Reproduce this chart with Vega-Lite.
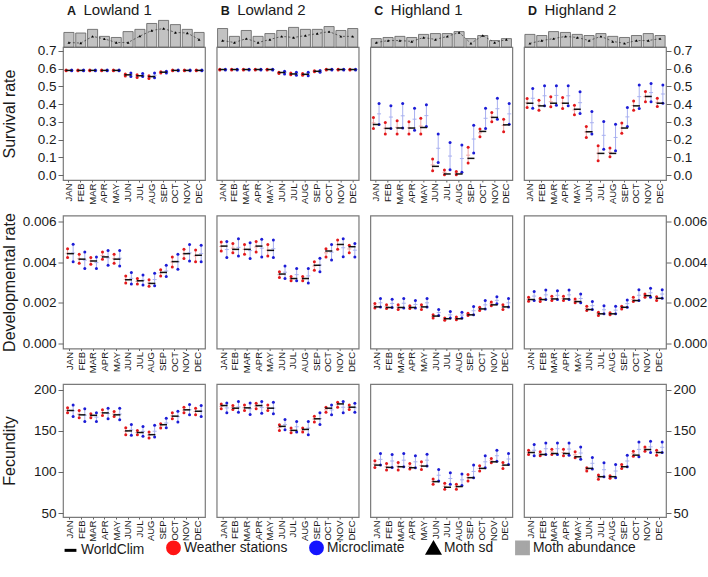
{
"$schema":"https://vega.github.io/schema/vega-lite/v6.json",
"background":"white",
"padding":{"left":0,"top":1,"right":0,"bottom":2},
"datasets":{
"ab":[
{"s":"A","mo":"JAN","ab":0.52,"sd":0.16},{"s":"A","mo":"FEB","ab":0.50,"sd":0.14},{"s":"A","mo":"MAR","ab":0.63,"sd":0.38},{"s":"A","mo":"APR","ab":0.38,"sd":0.29},{"s":"A","mo":"MAY","ab":0.34,"sd":0.16},{"s":"A","mo":"JUN","ab":0.55,"sd":0.16},{"s":"A","mo":"JUL","ab":0.63,"sd":0.39},{"s":"A","mo":"AUG","ab":0.84,"sd":0.59},{"s":"A","mo":"SEP","ab":0.95,"sd":0.66},{"s":"A","mo":"OCT","ab":0.80,"sd":0.52},{"s":"A","mo":"NOV","ab":0.63,"sd":0.50},{"s":"A","mo":"DEC","ab":0.52,"sd":0.27},
{"s":"B","mo":"JAN","ab":0.66,"sd":0.23},{"s":"B","mo":"FEB","ab":0.38,"sd":0.16},{"s":"B","mo":"MAR","ab":0.59,"sd":0.30},{"s":"B","mo":"APR","ab":0.38,"sd":0.16},{"s":"B","mo":"MAY","ab":0.48,"sd":0.27},{"s":"B","mo":"JUN","ab":0.59,"sd":0.38},{"s":"B","mo":"JUL","ab":0.70,"sd":0.34},{"s":"B","mo":"AUG","ab":0.63,"sd":0.41},{"s":"B","mo":"SEP","ab":0.63,"sd":0.48},{"s":"B","mo":"OCT","ab":0.73,"sd":0.55},{"s":"B","mo":"NOV","ab":0.59,"sd":0.38},{"s":"B","mo":"DEC","ab":0.66,"sd":0.38},
{"s":"C","mo":"JAN","ab":0.30,"sd":0.16},{"s":"C","mo":"FEB","ab":0.34,"sd":0.23},{"s":"C","mo":"MAR","ab":0.38,"sd":0.23},{"s":"C","mo":"APR","ab":0.34,"sd":0.20},{"s":"C","mo":"MAY","ab":0.45,"sd":0.34},{"s":"C","mo":"JUN","ab":0.48,"sd":0.27},{"s":"C","mo":"JUL","ab":0.48,"sd":0.38},{"s":"C","mo":"AUG","ab":0.55,"sd":0.52},{"s":"C","mo":"SEP","ab":0.30,"sd":0.13},{"s":"C","mo":"OCT","ab":0.41,"sd":0.41},{"s":"C","mo":"NOV","ab":0.23,"sd":0.16},{"s":"C","mo":"DEC","ab":0.30,"sd":0.27},
{"s":"D","mo":"JAN","ab":0.45,"sd":0.13},{"s":"D","mo":"FEB","ab":0.41,"sd":0.23},{"s":"D","mo":"MAR","ab":0.55,"sd":0.30},{"s":"D","mo":"APR","ab":0.52,"sd":0.38},{"s":"D","mo":"MAY","ab":0.45,"sd":0.34},{"s":"D","mo":"JUN","ab":0.41,"sd":0.23},{"s":"D","mo":"JUL","ab":0.48,"sd":0.38},{"s":"D","mo":"AUG","ab":0.38,"sd":0.20},{"s":"D","mo":"SEP","ab":0.34,"sd":0.13},{"s":"D","mo":"OCT","ab":0.41,"sd":0.23},{"s":"D","mo":"NOV","ab":0.48,"sd":0.23},{"s":"D","mo":"DEC","ab":0.41,"sd":0.30}
],
"d":[
{"s":"A","k":"S","mo":"JAN","wc":0.59,"wl":0.588,"wh":0.592,"wm":0.59,"ml":0.588,"mh":0.592,"mm":0.59},
{"s":"A","k":"S","mo":"FEB","wc":0.59,"wl":0.588,"wh":0.592,"wm":0.59,"ml":0.588,"mh":0.592,"mm":0.59},
{"s":"A","k":"S","mo":"MAR","wc":0.59,"wl":0.588,"wh":0.592,"wm":0.59,"ml":0.588,"mh":0.592,"mm":0.59},
{"s":"A","k":"S","mo":"APR","wc":0.59,"wl":0.588,"wh":0.592,"wm":0.59,"ml":0.588,"mh":0.592,"mm":0.59},
{"s":"A","k":"S","mo":"MAY","wc":0.59,"wl":0.588,"wh":0.592,"wm":0.59,"ml":0.588,"mh":0.592,"mm":0.59},
{"s":"A","k":"S","mo":"JUN","wc":0.565,"wl":0.558,"wh":0.570,"wm":0.564,"ml":0.555,"mh":0.575,"mm":0.565},
{"s":"A","k":"S","mo":"JUL","wc":0.560,"wl":0.550,"wh":0.565,"wm":0.558,"ml":0.555,"mh":0.572,"mm":0.563},
{"s":"A","k":"S","mo":"AUG","wc":0.555,"wl":0.545,"wh":0.560,"wm":0.553,"ml":0.548,"mh":0.575,"mm":0.562},
{"s":"A","k":"S","mo":"SEP","wc":0.580,"wl":0.575,"wh":0.582,"wm":0.579,"ml":0.575,"mh":0.585,"mm":0.580},
{"s":"A","k":"S","mo":"OCT","wc":0.59,"wl":0.588,"wh":0.592,"wm":0.59,"ml":0.588,"mh":0.592,"mm":0.59},
{"s":"A","k":"S","mo":"NOV","wc":0.59,"wl":0.588,"wh":0.592,"wm":0.59,"ml":0.588,"mh":0.592,"mm":0.59},
{"s":"A","k":"S","mo":"DEC","wc":0.59,"wl":0.588,"wh":0.592,"wm":0.59,"ml":0.588,"mh":0.592,"mm":0.59},
{"s":"B","k":"S","mo":"JAN","wc":0.595,"wl":0.593,"wh":0.597,"wm":0.595,"ml":0.593,"mh":0.597,"mm":0.595},
{"s":"B","k":"S","mo":"FEB","wc":0.595,"wl":0.593,"wh":0.597,"wm":0.595,"ml":0.593,"mh":0.597,"mm":0.595},
{"s":"B","k":"S","mo":"MAR","wc":0.595,"wl":0.593,"wh":0.597,"wm":0.595,"ml":0.593,"mh":0.597,"mm":0.595},
{"s":"B","k":"S","mo":"APR","wc":0.595,"wl":0.593,"wh":0.597,"wm":0.595,"ml":0.593,"mh":0.597,"mm":0.595},
{"s":"B","k":"S","mo":"MAY","wc":0.595,"wl":0.593,"wh":0.597,"wm":0.595,"ml":0.593,"mh":0.597,"mm":0.595},
{"s":"B","k":"S","mo":"JUN","wc":0.578,"wl":0.572,"wh":0.580,"wm":0.576,"ml":0.570,"mh":0.585,"mm":0.578},
{"s":"B","k":"S","mo":"JUL","wc":0.570,"wl":0.565,"wh":0.575,"wm":0.570,"ml":0.562,"mh":0.580,"mm":0.571},
{"s":"B","k":"S","mo":"AUG","wc":0.568,"wl":0.562,"wh":0.572,"wm":0.567,"ml":0.560,"mh":0.580,"mm":0.570},
{"s":"B","k":"S","mo":"SEP","wc":0.585,"wl":0.582,"wh":0.588,"wm":0.585,"ml":0.580,"mh":0.590,"mm":0.585},
{"s":"B","k":"S","mo":"OCT","wc":0.595,"wl":0.593,"wh":0.597,"wm":0.595,"ml":0.593,"mh":0.597,"mm":0.595},
{"s":"B","k":"S","mo":"NOV","wc":0.595,"wl":0.593,"wh":0.597,"wm":0.595,"ml":0.593,"mh":0.597,"mm":0.595},
{"s":"B","k":"S","mo":"DEC","wc":0.595,"wl":0.593,"wh":0.597,"wm":0.595,"ml":0.593,"mh":0.597,"mm":0.595},
{"s":"C","k":"S","mo":"JAN","wc":0.285,"wl":0.262,"wh":0.325,"wm":0.294,"ml":0.285,"mh":0.404,"mm":0.345},
{"s":"C","k":"S","mo":"FEB","wc":0.263,"wl":0.231,"wh":0.296,"wm":0.264,"ml":0.263,"mh":0.390,"mm":0.327},
{"s":"C","k":"S","mo":"MAR","wc":0.265,"wl":0.231,"wh":0.306,"wm":0.269,"ml":0.265,"mh":0.403,"mm":0.334},
{"s":"C","k":"S","mo":"APR","wc":0.265,"wl":0.231,"wh":0.300,"wm":0.266,"ml":0.253,"mh":0.377,"mm":0.315},
{"s":"C","k":"S","mo":"MAY","wc":0.268,"wl":0.231,"wh":0.320,"wm":0.276,"ml":0.274,"mh":0.396,"mm":0.335},
{"s":"C","k":"S","mo":"JUN","wc":0.049,"wl":0.024,"wh":0.090,"wm":0.057,"ml":0.071,"mh":0.231,"mm":0.151},
{"s":"C","k":"S","mo":"JUL","wc":0.006,"wl":0.002,"wh":0.028,"wm":0.015,"ml":0.030,"mh":0.184,"mm":0.107},
{"s":"C","k":"S","mo":"AUG","wc":0.006,"wl":0.002,"wh":0.020,"wm":0.011,"ml":0.015,"mh":0.170,"mm":0.093},
{"s":"C","k":"S","mo":"SEP","wc":0.094,"wl":0.068,"wh":0.156,"wm":0.112,"ml":0.124,"mh":0.281,"mm":0.203},
{"s":"C","k":"S","mo":"OCT","wc":0.246,"wl":0.216,"wh":0.259,"wm":0.238,"ml":0.263,"mh":0.377,"mm":0.320},
{"s":"C","k":"S","mo":"NOV","wc":0.325,"wl":0.300,"wh":0.353,"wm":0.327,"ml":0.315,"mh":0.433,"mm":0.374},
{"s":"C","k":"S","mo":"DEC","wc":0.283,"wl":0.244,"wh":0.315,"wm":0.280,"ml":0.287,"mh":0.403,"mm":0.345},
{"s":"D","k":"S","mo":"JAN","wc":0.405,"wl":0.381,"wh":0.432,"wm":0.407,"ml":0.377,"mh":0.488,"mm":0.433},
{"s":"D","k":"S","mo":"FEB","wc":0.390,"wl":0.366,"wh":0.422,"wm":0.394,"ml":0.390,"mh":0.503,"mm":0.447},
{"s":"D","k":"S","mo":"MAR","wc":0.405,"wl":0.385,"wh":0.441,"wm":0.413,"ml":0.394,"mh":0.503,"mm":0.449},
{"s":"D","k":"S","mo":"APR","wc":0.405,"wl":0.375,"wh":0.437,"wm":0.406,"ml":0.390,"mh":0.503,"mm":0.447},
{"s":"D","k":"S","mo":"MAY","wc":0.371,"wl":0.340,"wh":0.394,"wm":0.367,"ml":0.347,"mh":0.469,"mm":0.408},
{"s":"D","k":"S","mo":"JUN","wc":0.244,"wl":0.212,"wh":0.274,"wm":0.243,"ml":0.231,"mh":0.358,"mm":0.295},
{"s":"D","k":"S","mo":"JUL","wc":0.122,"wl":0.081,"wh":0.165,"wm":0.123,"ml":0.146,"mh":0.302,"mm":0.224},
{"s":"D","k":"S","mo":"AUG","wc":0.122,"wl":0.103,"wh":0.152,"wm":0.128,"ml":0.137,"mh":0.287,"mm":0.212},
{"s":"D","k":"S","mo":"SEP","wc":0.265,"wl":0.236,"wh":0.293,"wm":0.265,"ml":0.274,"mh":0.381,"mm":0.328},
{"s":"D","k":"S","mo":"OCT","wc":0.390,"wl":0.366,"wh":0.418,"wm":0.392,"ml":0.375,"mh":0.508,"mm":0.442},
{"s":"D","k":"S","mo":"NOV","wc":0.443,"wl":0.413,"wh":0.471,"wm":0.442,"ml":0.413,"mh":0.516,"mm":0.465},
{"s":"D","k":"S","mo":"DEC","wc":0.405,"wl":0.386,"wh":0.433,"wm":0.410,"ml":0.405,"mh":0.508,"mm":0.457},
{"s":"A","k":"D","mo":"JAN","wc":0.00441,"wl":0.00422,"wh":0.00465,"wm":0.00443,"ml":0.00401,"mh":0.00487,"mm":0.00444},
{"s":"A","k":"D","mo":"FEB","wc":0.00414,"wl":0.00394,"wh":0.00438,"wm":0.00416,"ml":0.00368,"mh":0.00449,"mm":0.00409},
{"s":"A","k":"D","mo":"MAR","wc":0.00405,"wl":0.00389,"wh":0.00422,"wm":0.00405,"ml":0.00368,"mh":0.00425,"mm":0.00397},
{"s":"A","k":"D","mo":"APR","wc":0.00425,"wl":0.00414,"wh":0.00449,"wm":0.00432,"ml":0.00384,"mh":0.00457,"mm":0.00420},
{"s":"A","k":"D","mo":"MAY","wc":0.00414,"wl":0.00394,"wh":0.00438,"wm":0.00416,"ml":0.00381,"mh":0.00457,"mm":0.00419},
{"s":"A","k":"D","mo":"JUN","wc":0.00313,"wl":0.00297,"wh":0.00332,"wm":0.00315,"ml":0.00292,"mh":0.00349,"mm":0.00320},
{"s":"A","k":"D","mo":"JUL","wc":0.00308,"wl":0.00292,"wh":0.00319,"wm":0.00305,"ml":0.00287,"mh":0.00336,"mm":0.00311},
{"s":"A","k":"D","mo":"AUG","wc":0.00295,"wl":0.00281,"wh":0.00313,"wm":0.00297,"ml":0.00284,"mh":0.00345,"mm":0.00314},
{"s":"A","k":"D","mo":"SEP","wc":0.00349,"wl":0.00332,"wh":0.00362,"wm":0.00347,"ml":0.00329,"mh":0.00384,"mm":0.00356},
{"s":"A","k":"D","mo":"OCT","wc":0.00402,"wl":0.00376,"wh":0.00425,"wm":0.00400,"ml":0.00365,"mh":0.00438,"mm":0.00401},
{"s":"A","k":"D","mo":"NOV","wc":0.00441,"wl":0.00417,"wh":0.00462,"wm":0.00440,"ml":0.00405,"mh":0.00486,"mm":0.00445},
{"s":"A","k":"D","mo":"DEC","wc":0.00433,"wl":0.00401,"wh":0.00459,"wm":0.00430,"ml":0.00401,"mh":0.00482,"mm":0.00441},
{"s":"B","k":"D","mo":"JAN","wc":0.00478,"wl":0.00454,"wh":0.00498,"wm":0.00476,"ml":0.00422,"mh":0.00500,"mm":0.00461},
{"s":"B","k":"D","mo":"FEB","wc":0.00462,"wl":0.00446,"wh":0.00491,"wm":0.00468,"ml":0.00430,"mh":0.00514,"mm":0.00472},
{"s":"B","k":"D","mo":"MAR","wc":0.00462,"wl":0.00438,"wh":0.00486,"wm":0.00462,"ml":0.00417,"mh":0.00495,"mm":0.00456},
{"s":"B","k":"D","mo":"APR","wc":0.00478,"wl":0.00449,"wh":0.00500,"wm":0.00474,"ml":0.00425,"mh":0.00511,"mm":0.00468},
{"s":"B","k":"D","mo":"MAY","wc":0.00457,"wl":0.00430,"wh":0.00486,"wm":0.00458,"ml":0.00422,"mh":0.00508,"mm":0.00465},
{"s":"B","k":"D","mo":"JUN","wc":0.00341,"wl":0.00324,"wh":0.00352,"wm":0.00338,"ml":0.00319,"mh":0.00381,"mm":0.00350},
{"s":"B","k":"D","mo":"JUL","wc":0.00319,"wl":0.00308,"wh":0.00329,"wm":0.00318,"ml":0.00308,"mh":0.00368,"mm":0.00338},
{"s":"B","k":"D","mo":"AUG","wc":0.00319,"wl":0.00308,"wh":0.00329,"wm":0.00318,"ml":0.00297,"mh":0.00368,"mm":0.00332},
{"s":"B","k":"D","mo":"SEP","wc":0.00384,"wl":0.00360,"wh":0.00401,"wm":0.00380,"ml":0.00352,"mh":0.00418,"mm":0.00385},
{"s":"B","k":"D","mo":"OCT","wc":0.00454,"wl":0.00425,"wh":0.00465,"wm":0.00445,"ml":0.00410,"mh":0.00486,"mm":0.00448},
{"s":"B","k":"D","mo":"NOV","wc":0.00486,"wl":0.00462,"wh":0.00508,"wm":0.00485,"ml":0.00426,"mh":0.00514,"mm":0.00470},
{"s":"B","k":"D","mo":"DEC","wc":0.00475,"wl":0.00446,"wh":0.00482,"wm":0.00464,"ml":0.00425,"mh":0.00491,"mm":0.00458},
{"s":"C","k":"D","mo":"JAN","wc":0.00180,"wl":0.00175,"wh":0.00196,"wm":0.00185,"ml":0.00180,"mh":0.00221,"mm":0.00200},
{"s":"C","k":"D","mo":"FEB","wc":0.00177,"wl":0.00172,"wh":0.00191,"wm":0.00181,"ml":0.00177,"mh":0.00217,"mm":0.00197},
{"s":"C","k":"D","mo":"MAR","wc":0.00177,"wl":0.00167,"wh":0.00191,"wm":0.00179,"ml":0.00174,"mh":0.00221,"mm":0.00198},
{"s":"C","k":"D","mo":"APR","wc":0.00177,"wl":0.00172,"wh":0.00186,"wm":0.00179,"ml":0.00174,"mh":0.00211,"mm":0.00192},
{"s":"C","k":"D","mo":"MAY","wc":0.00180,"wl":0.00167,"wh":0.00191,"wm":0.00179,"ml":0.00180,"mh":0.00221,"mm":0.00200},
{"s":"C","k":"D","mo":"JUN","wc":0.00135,"wl":0.00126,"wh":0.00141,"wm":0.00133,"ml":0.00138,"mh":0.00167,"mm":0.00152},
{"s":"C","k":"D","mo":"JUL","wc":0.00122,"wl":0.00114,"wh":0.00125,"wm":0.00120,"ml":0.00125,"mh":0.00157,"mm":0.00141},
{"s":"C","k":"D","mo":"AUG","wc":0.00122,"wl":0.00117,"wh":0.00130,"wm":0.00123,"ml":0.00125,"mh":0.00154,"mm":0.00140},
{"s":"C","k":"D","mo":"SEP","wc":0.00141,"wl":0.00138,"wh":0.00149,"wm":0.00143,"ml":0.00141,"mh":0.00182,"mm":0.00161},
{"s":"C","k":"D","mo":"OCT","wc":0.00170,"wl":0.00162,"wh":0.00178,"wm":0.00170,"ml":0.00170,"mh":0.00211,"mm":0.00190},
{"s":"C","k":"D","mo":"NOV","wc":0.00190,"wl":0.00186,"wh":0.00204,"wm":0.00195,"ml":0.00195,"mh":0.00230,"mm":0.00212},
{"s":"C","k":"D","mo":"DEC","wc":0.00180,"wl":0.00167,"wh":0.00191,"wm":0.00179,"ml":0.00180,"mh":0.00221,"mm":0.00200},
{"s":"D","k":"D","mo":"JAN","wc":0.00216,"wl":0.00208,"wh":0.00227,"wm":0.00217,"ml":0.00211,"mh":0.00255,"mm":0.00233},
{"s":"D","k":"D","mo":"FEB","wc":0.00216,"wl":0.00206,"wh":0.00222,"wm":0.00214,"ml":0.00216,"mh":0.00263,"mm":0.00239},
{"s":"D","k":"D","mo":"MAR","wc":0.00219,"wl":0.00211,"wh":0.00232,"wm":0.00221,"ml":0.00216,"mh":0.00259,"mm":0.00237},
{"s":"D","k":"D","mo":"APR","wc":0.00219,"wl":0.00211,"wh":0.00232,"wm":0.00221,"ml":0.00216,"mh":0.00263,"mm":0.00239},
{"s":"D","k":"D","mo":"MAY","wc":0.00206,"wl":0.00200,"wh":0.00219,"wm":0.00209,"ml":0.00200,"mh":0.00243,"mm":0.00221},
{"s":"D","k":"D","mo":"JUN","wc":0.00167,"wl":0.00162,"wh":0.00183,"wm":0.00172,"ml":0.00167,"mh":0.00206,"mm":0.00186},
{"s":"D","k":"D","mo":"JUL","wc":0.00146,"wl":0.00138,"wh":0.00154,"wm":0.00146,"ml":0.00146,"mh":0.00186,"mm":0.00166},
{"s":"D","k":"D","mo":"AUG","wc":0.00146,"wl":0.00141,"wh":0.00151,"wm":0.00146,"ml":0.00146,"mh":0.00183,"mm":0.00164},
{"s":"D","k":"D","mo":"SEP","wc":0.00178,"wl":0.00170,"wh":0.00183,"wm":0.00176,"ml":0.00178,"mh":0.00214,"mm":0.00196},
{"s":"D","k":"D","mo":"OCT","wc":0.00211,"wl":0.00206,"wh":0.00227,"wm":0.00216,"ml":0.00211,"mh":0.00264,"mm":0.00237},
{"s":"D","k":"D","mo":"NOV","wc":0.00235,"wl":0.00227,"wh":0.00243,"wm":0.00235,"ml":0.00227,"mh":0.00271,"mm":0.00249},
{"s":"D","k":"D","mo":"DEC","wc":0.00222,"wl":0.00211,"wh":0.00230,"wm":0.00220,"ml":0.00222,"mh":0.00264,"mm":0.00243},
{"s":"A","k":"F","mo":"JAN","wc":174.7,"wl":171.8,"wh":177.9,"wm":174.8,"ml":167.4,"mh":181.5,"mm":174.4},
{"s":"A","k":"F","mo":"FEB","wc":169.4,"wl":165.8,"wh":174.7,"wm":170.2,"ml":161.4,"mh":176.7,"mm":169.0},
{"s":"A","k":"F","mo":"MAR","wc":168.8,"wl":165.8,"wh":170.6,"wm":168.2,"ml":161.4,"mh":171.8,"mm":166.6},
{"s":"A","k":"F","mo":"APR","wc":171.8,"wl":168.6,"wh":175.5,"wm":172.0,"ml":164.6,"mh":177.5,"mm":171.0},
{"s":"A","k":"F","mo":"MAY","wc":169.4,"wl":167.4,"wh":173.5,"wm":170.4,"ml":163.4,"mh":177.5,"mm":170.4},
{"s":"A","k":"F","mo":"JUN","wc":149.9,"wl":145.3,"wh":153.7,"wm":149.5,"ml":144.5,"mh":157.8,"mm":151.1},
{"s":"A","k":"F","mo":"JUL","wc":147.9,"wl":145.3,"wh":150.5,"wm":147.9,"ml":143.3,"mh":155.3,"mm":149.3},
{"s":"A","k":"F","mo":"AUG","wc":145.3,"wl":141.3,"wh":148.5,"wm":144.9,"ml":142.5,"mh":156.6,"mm":149.5},
{"s":"A","k":"F","mo":"SEP","wc":157.4,"wl":153.3,"wh":158.6,"wm":156.0,"ml":153.7,"mh":165.4,"mm":159.5},
{"s":"A","k":"F","mo":"OCT","wc":167.8,"wl":164.6,"wh":171.8,"wm":168.2,"ml":160.6,"mh":173.8,"mm":167.2},
{"s":"A","k":"F","mo":"NOV","wc":175.5,"wl":171.8,"wh":178.7,"wm":175.2,"ml":169.4,"mh":181.9,"mm":175.6},
{"s":"A","k":"F","mo":"DEC","wc":173.8,"wl":169.4,"wh":177.5,"wm":173.5,"ml":167.4,"mh":180.7,"mm":174.0},
{"s":"B","k":"F","mo":"JAN","wc":180.7,"wl":176.7,"wh":182.7,"wm":179.7,"ml":171.8,"mh":183.9,"mm":177.8},
{"s":"B","k":"F","mo":"FEB","wc":177.5,"wl":175.9,"wh":180.7,"wm":178.3,"ml":172.6,"mh":185.5,"mm":179.0},
{"s":"B","k":"F","mo":"MAR","wc":177.9,"wl":174.7,"wh":181.5,"wm":178.1,"ml":169.8,"mh":183.9,"mm":176.8},
{"s":"B","k":"F","mo":"APR","wc":180.7,"wl":176.7,"wh":183.5,"wm":180.1,"ml":171.4,"mh":185.5,"mm":178.4},
{"s":"B","k":"F","mo":"MAY","wc":177.5,"wl":174.7,"wh":181.5,"wm":178.1,"ml":170.6,"mh":184.7,"mm":177.6},
{"s":"B","k":"F","mo":"JUN","wc":155.4,"wl":150.5,"wh":157.4,"wm":154.0,"ml":151.3,"mh":163.8,"mm":157.5},
{"s":"B","k":"F","mo":"JUL","wc":150.5,"wl":147.7,"wh":153.3,"wm":150.5,"ml":148.5,"mh":161.4,"mm":154.9},
{"s":"B","k":"F","mo":"AUG","wc":151.7,"wl":148.5,"wh":153.3,"wm":150.9,"ml":145.3,"mh":161.4,"mm":153.3},
{"s":"B","k":"F","mo":"SEP","wc":164.6,"wl":160.6,"wh":167.8,"wm":164.2,"ml":157.8,"mh":171.8,"mm":164.8},
{"s":"B","k":"F","mo":"OCT","wc":177.5,"wl":172.6,"wh":178.7,"wm":175.6,"ml":169.4,"mh":181.5,"mm":175.4},
{"s":"B","k":"F","mo":"NOV","wc":182.7,"wl":178.7,"wh":184.7,"wm":181.7,"ml":171.8,"mh":185.5,"mm":178.6},
{"s":"B","k":"F","mo":"DEC","wc":178.7,"wl":175.9,"wh":181.5,"wm":178.7,"ml":172.6,"mh":183.5,"mm":178.0},
{"s":"C","k":"F","mo":"JAN","wc":108.3,"wl":105.5,"wh":113.5,"wm":109.5,"ml":108.3,"mh":122.4,"mm":115.3},
{"s":"C","k":"F","mo":"FEB","wc":105.5,"wl":102.3,"wh":110.3,"wm":106.3,"ml":105.5,"mh":121.2,"mm":113.3},
{"s":"C","k":"F","mo":"MAR","wc":106.3,"wl":102.3,"wh":111.5,"wm":106.9,"ml":106.3,"mh":122.4,"mm":114.3},
{"s":"C","k":"F","mo":"APR","wc":105.1,"wl":103.5,"wh":110.3,"wm":106.9,"ml":105.1,"mh":119.6,"mm":112.3},
{"s":"C","k":"F","mo":"MAY","wc":107.1,"wl":103.1,"wh":112.3,"wm":107.7,"ml":107.1,"mh":121.6,"mm":114.3},
{"s":"C","k":"F","mo":"JUN","wc":88.2,"wl":85.0,"wh":91.4,"wm":88.2,"ml":89.0,"mh":103.1,"mm":96.0},
{"s":"C","k":"F","mo":"JUL","wc":81.4,"wl":79.0,"wh":86.2,"wm":82.6,"ml":85.0,"mh":99.1,"mm":92.0},
{"s":"C","k":"F","mo":"AUG","wc":82.2,"wl":79.0,"wh":85.0,"wm":82.0,"ml":83.4,"mh":97.4,"mm":90.4},
{"s":"C","k":"F","mo":"SEP","wc":93.0,"wl":89.0,"wh":97.0,"wm":93.0,"ml":93.0,"mh":108.3,"mm":100.6},
{"s":"C","k":"F","mo":"OCT","wc":104.3,"wl":101.1,"wh":107.5,"wm":104.3,"ml":105.1,"mh":119.6,"mm":112.3},
{"s":"C","k":"F","mo":"NOV","wc":112.3,"wl":111.1,"wh":116.3,"wm":113.7,"ml":113.1,"mh":126.4,"mm":119.7},
{"s":"C","k":"F","mo":"DEC","wc":108.3,"wl":104.3,"wh":111.5,"wm":107.9,"ml":109.1,"mh":122.4,"mm":115.7},
{"s":"D","k":"F","mo":"JAN","wc":123.6,"wl":121.2,"wh":126.4,"wm":123.8,"ml":119.6,"mh":133.2,"mm":126.4},
{"s":"D","k":"F","mo":"FEB","wc":121.2,"wl":119.6,"wh":124.4,"wm":122.0,"ml":121.2,"mh":135.2,"mm":128.2},
{"s":"D","k":"F","mo":"MAR","wc":122.4,"wl":121.2,"wh":127.6,"wm":124.4,"ml":121.2,"mh":135.2,"mm":128.2},
{"s":"D","k":"F","mo":"APR","wc":122.4,"wl":119.6,"wh":127.6,"wm":123.6,"ml":120.4,"mh":135.2,"mm":127.8},
{"s":"D","k":"F","mo":"MAY","wc":118.4,"wl":117.2,"wh":124.4,"wm":120.8,"ml":115.5,"mh":130.4,"mm":123.0},
{"s":"D","k":"F","mo":"JUN","wc":104.3,"wl":101.1,"wh":105.1,"wm":103.1,"ml":103.5,"mh":117.6,"mm":110.5},
{"s":"D","k":"F","mo":"JUL","wc":94.2,"wl":91.0,"wh":96.2,"wm":93.6,"ml":94.2,"mh":111.1,"mm":102.7},
{"s":"D","k":"F","mo":"AUG","wc":94.2,"wl":92.2,"wh":95.4,"wm":93.8,"ml":93.0,"mh":109.1,"mm":101.1},
{"s":"D","k":"F","mo":"SEP","wc":106.3,"wl":104.3,"wh":109.1,"wm":106.7,"ml":106.3,"mh":120.4,"mm":113.3},
{"s":"D","k":"F","mo":"OCT","wc":120.4,"wl":119.2,"wh":125.2,"wm":122.2,"ml":118.4,"mh":136.4,"mm":127.4},
{"s":"D","k":"F","mo":"NOV","wc":127.2,"wl":125.2,"wh":130.4,"wm":127.8,"ml":123.6,"mh":137.3,"mm":130.5},
{"s":"D","k":"F","mo":"DEC","wc":123.6,"wl":120.4,"wh":126.4,"wm":123.4,"ml":123.6,"mh":136.4,"mm":130.0}
]},
"columns":4,
"spacing":{"row":35.5,"column":11.67},
"bounds":"flush",
"concat":[
{"width":142,"height":133,"title":"A",
 "resolve":{"scale":{"y":"independent"},"axis":{"x":"independent"}},
 "layer":[
  {"data":{"name":"ab"},"transform":[{"filter":"datum.s=='A'"}],
   "encoding":{"x":{"field":"mo","type":"nominal","scale":{"domain":["JAN","FEB","MAR","APR","MAY","JUN","JUL","AUG","SEP","OCT","NOV","DEC"]},"axis":{"orient":"top","offset":29,"labels":false,"ticks":false,"domain":false,"title":"Lowland 1","titleFontSize":15,"titleAnchor":"start","titleAlign":"left","titleX":20,"titlePadding":1}}},
   "layer":[
    {"mark":{"type":"bar","fill":"#c2c2c2","stroke":"#5e5e5e","strokeWidth":0.8},"encoding":{"y":{"field":"ab","type":"quantitative","scale":{"domain":[0,1],"range":[0,-28],"nice":false},"axis":null}}},
    {"mark":{"type":"line","color":"#333333","strokeWidth":0.7,"strokeDash":[2,2]},"encoding":{"y":{"field":"sd","type":"quantitative","axis":null}}},
    {"mark":{"type":"point","shape":"triangle-up","filled":true,"color":"black","size":8},"encoding":{"y":{"field":"sd","type":"quantitative","axis":null}}}
   ]},
  {"data":{"name":"d"},"transform":[{"filter":"datum.s=='A'&&datum.k=='S'"}],
   "encoding":{"x":{"field":"mo","type":"nominal","scale":{"domain":["JAN","FEB","MAR","APR","MAY","JUN","JUL","AUG","SEP","OCT","NOV","DEC"]},"title":null}},
   "layer":[
    {"mark":{"type":"rule","color":"#f2a7a7","strokeWidth":1},"encoding":{"xOffset":{"datum":"WS","scale":{"domain":["WS","WC","MC"]}},"y":{"field":"wl","type":"quantitative","scale":{"domain":[-0.028,0.722],"nice":false,"zero":false},"axis":{"values":[0,0.1,0.2,0.3,0.4,0.5,0.6,0.7],"tickCount":8,"labelOverlap":false,"format":".1f","title":"Survival rate","titleX":-49,"titleBaseline":"alphabetic"}},"y2":{"field":"wh"}}},
    {"mark":{"type":"rule","color":"#a8b0f0","strokeWidth":1},"encoding":{"xOffset":{"datum":"MC"},"y":{"field":"ml","type":"quantitative","axis":{"values":[0,0.1,0.2,0.3,0.4,0.5,0.6,0.7],"tickCount":8,"labelOverlap":false,"format":".1f","title":"Survival rate","titleX":-49,"titleBaseline":"alphabetic"}},"y2":{"field":"mh"}}},
    {"mark":{"type":"tick","color":"#f2a7a7","size":4,"thickness":1},"encoding":{"xOffset":{"datum":"WS"},"y":{"field":"wm","type":"quantitative","axis":{"values":[0,0.1,0.2,0.3,0.4,0.5,0.6,0.7],"tickCount":8,"labelOverlap":false,"format":".1f","title":"Survival rate","titleX":-49,"titleBaseline":"alphabetic"}}}},
    {"mark":{"type":"tick","color":"#a8b0f0","size":4,"thickness":1},"encoding":{"xOffset":{"datum":"MC"},"y":{"field":"mm","type":"quantitative","axis":{"values":[0,0.1,0.2,0.3,0.4,0.5,0.6,0.7],"tickCount":8,"labelOverlap":false,"format":".1f","title":"Survival rate","titleX":-49,"titleBaseline":"alphabetic"}}}},
    {"mark":{"type":"point","filled":true,"color":"#e3191c","size":9},"encoding":{"xOffset":{"datum":"WS"},"y":{"field":"wl","type":"quantitative","axis":{"values":[0,0.1,0.2,0.3,0.4,0.5,0.6,0.7],"tickCount":8,"labelOverlap":false,"format":".1f","title":"Survival rate","titleX":-49,"titleBaseline":"alphabetic"}}}},
    {"mark":{"type":"point","filled":true,"color":"#e3191c","size":9},"encoding":{"xOffset":{"datum":"WS"},"y":{"field":"wh","type":"quantitative","axis":{"values":[0,0.1,0.2,0.3,0.4,0.5,0.6,0.7],"tickCount":8,"labelOverlap":false,"format":".1f","title":"Survival rate","titleX":-49,"titleBaseline":"alphabetic"}}}},
    {"mark":{"type":"point","filled":true,"color":"#1c1cd6","size":9},"encoding":{"xOffset":{"datum":"MC"},"y":{"field":"ml","type":"quantitative","axis":{"values":[0,0.1,0.2,0.3,0.4,0.5,0.6,0.7],"tickCount":8,"labelOverlap":false,"format":".1f","title":"Survival rate","titleX":-49,"titleBaseline":"alphabetic"}}}},
    {"mark":{"type":"point","filled":true,"color":"#1c1cd6","size":9},"encoding":{"xOffset":{"datum":"MC"},"y":{"field":"mh","type":"quantitative","axis":{"values":[0,0.1,0.2,0.3,0.4,0.5,0.6,0.7],"tickCount":8,"labelOverlap":false,"format":".1f","title":"Survival rate","titleX":-49,"titleBaseline":"alphabetic"}}}},
    {"mark":{"type":"tick","color":"#111111","size":7,"thickness":1.5},"encoding":{"xOffset":{"datum":"WC"},"y":{"field":"wc","type":"quantitative","axis":{"values":[0,0.1,0.2,0.3,0.4,0.5,0.6,0.7],"tickCount":8,"labelOverlap":false,"format":".1f","title":"Survival rate","titleX":-49,"titleBaseline":"alphabetic"}}}}
   ]}
 ]},
{"width":142,"height":133,"title":"B",
 "resolve":{"scale":{"y":"independent"},"axis":{"x":"independent"}},
 "layer":[
  {"data":{"name":"ab"},"transform":[{"filter":"datum.s=='B'"}],
   "encoding":{"x":{"field":"mo","type":"nominal","scale":{"domain":["JAN","FEB","MAR","APR","MAY","JUN","JUL","AUG","SEP","OCT","NOV","DEC"]},"axis":{"orient":"top","offset":29,"labels":false,"ticks":false,"domain":false,"title":"Lowland 2","titleFontSize":15,"titleAnchor":"start","titleAlign":"left","titleX":20,"titlePadding":1}}},
   "layer":[
    {"mark":{"type":"bar","fill":"#c2c2c2","stroke":"#5e5e5e","strokeWidth":0.8},"encoding":{"y":{"field":"ab","type":"quantitative","scale":{"domain":[0,1],"range":[0,-28],"nice":false},"axis":null}}},
    {"mark":{"type":"line","color":"#333333","strokeWidth":0.7,"strokeDash":[2,2]},"encoding":{"y":{"field":"sd","type":"quantitative","axis":null}}},
    {"mark":{"type":"point","shape":"triangle-up","filled":true,"color":"black","size":8},"encoding":{"y":{"field":"sd","type":"quantitative","axis":null}}}
   ]},
  {"data":{"name":"d"},"transform":[{"filter":"datum.s=='B'&&datum.k=='S'"}],
   "encoding":{"x":{"field":"mo","type":"nominal","scale":{"domain":["JAN","FEB","MAR","APR","MAY","JUN","JUL","AUG","SEP","OCT","NOV","DEC"]},"title":null}},
   "layer":[
    {"mark":{"type":"rule","color":"#f2a7a7","strokeWidth":1},"encoding":{"xOffset":{"datum":"WS","scale":{"domain":["WS","WC","MC"]}},"y":{"field":"wl","type":"quantitative","scale":{"domain":[-0.028,0.722],"nice":false,"zero":false},"axis":null},"y2":{"field":"wh"}}},
    {"mark":{"type":"rule","color":"#a8b0f0","strokeWidth":1},"encoding":{"xOffset":{"datum":"MC"},"y":{"field":"ml","type":"quantitative","axis":null},"y2":{"field":"mh"}}},
    {"mark":{"type":"tick","color":"#f2a7a7","size":4,"thickness":1},"encoding":{"xOffset":{"datum":"WS"},"y":{"field":"wm","type":"quantitative","axis":null}}},
    {"mark":{"type":"tick","color":"#a8b0f0","size":4,"thickness":1},"encoding":{"xOffset":{"datum":"MC"},"y":{"field":"mm","type":"quantitative","axis":null}}},
    {"mark":{"type":"point","filled":true,"color":"#e3191c","size":9},"encoding":{"xOffset":{"datum":"WS"},"y":{"field":"wl","type":"quantitative","axis":null}}},
    {"mark":{"type":"point","filled":true,"color":"#e3191c","size":9},"encoding":{"xOffset":{"datum":"WS"},"y":{"field":"wh","type":"quantitative","axis":null}}},
    {"mark":{"type":"point","filled":true,"color":"#1c1cd6","size":9},"encoding":{"xOffset":{"datum":"MC"},"y":{"field":"ml","type":"quantitative","axis":null}}},
    {"mark":{"type":"point","filled":true,"color":"#1c1cd6","size":9},"encoding":{"xOffset":{"datum":"MC"},"y":{"field":"mh","type":"quantitative","axis":null}}},
    {"mark":{"type":"tick","color":"#111111","size":7,"thickness":1.5},"encoding":{"xOffset":{"datum":"WC"},"y":{"field":"wc","type":"quantitative","axis":null}}}
   ]}
 ]},
{"width":142,"height":133,"title":"C",
 "resolve":{"scale":{"y":"independent"},"axis":{"x":"independent"}},
 "layer":[
  {"data":{"name":"ab"},"transform":[{"filter":"datum.s=='C'"}],
   "encoding":{"x":{"field":"mo","type":"nominal","scale":{"domain":["JAN","FEB","MAR","APR","MAY","JUN","JUL","AUG","SEP","OCT","NOV","DEC"]},"axis":{"orient":"top","offset":29,"labels":false,"ticks":false,"domain":false,"title":"Highland 1","titleFontSize":15,"titleAnchor":"start","titleAlign":"left","titleX":20,"titlePadding":1}}},
   "layer":[
    {"mark":{"type":"bar","fill":"#c2c2c2","stroke":"#5e5e5e","strokeWidth":0.8},"encoding":{"y":{"field":"ab","type":"quantitative","scale":{"domain":[0,1],"range":[0,-28],"nice":false},"axis":null}}},
    {"mark":{"type":"line","color":"#333333","strokeWidth":0.7,"strokeDash":[2,2]},"encoding":{"y":{"field":"sd","type":"quantitative","axis":null}}},
    {"mark":{"type":"point","shape":"triangle-up","filled":true,"color":"black","size":8},"encoding":{"y":{"field":"sd","type":"quantitative","axis":null}}}
   ]},
  {"data":{"name":"d"},"transform":[{"filter":"datum.s=='C'&&datum.k=='S'"}],
   "encoding":{"x":{"field":"mo","type":"nominal","scale":{"domain":["JAN","FEB","MAR","APR","MAY","JUN","JUL","AUG","SEP","OCT","NOV","DEC"]},"title":null}},
   "layer":[
    {"mark":{"type":"rule","color":"#f2a7a7","strokeWidth":1},"encoding":{"xOffset":{"datum":"WS","scale":{"domain":["WS","WC","MC"]}},"y":{"field":"wl","type":"quantitative","scale":{"domain":[-0.028,0.722],"nice":false,"zero":false},"axis":null},"y2":{"field":"wh"}}},
    {"mark":{"type":"rule","color":"#a8b0f0","strokeWidth":1},"encoding":{"xOffset":{"datum":"MC"},"y":{"field":"ml","type":"quantitative","axis":null},"y2":{"field":"mh"}}},
    {"mark":{"type":"tick","color":"#f2a7a7","size":4,"thickness":1},"encoding":{"xOffset":{"datum":"WS"},"y":{"field":"wm","type":"quantitative","axis":null}}},
    {"mark":{"type":"tick","color":"#a8b0f0","size":4,"thickness":1},"encoding":{"xOffset":{"datum":"MC"},"y":{"field":"mm","type":"quantitative","axis":null}}},
    {"mark":{"type":"point","filled":true,"color":"#e3191c","size":9},"encoding":{"xOffset":{"datum":"WS"},"y":{"field":"wl","type":"quantitative","axis":null}}},
    {"mark":{"type":"point","filled":true,"color":"#e3191c","size":9},"encoding":{"xOffset":{"datum":"WS"},"y":{"field":"wh","type":"quantitative","axis":null}}},
    {"mark":{"type":"point","filled":true,"color":"#1c1cd6","size":9},"encoding":{"xOffset":{"datum":"MC"},"y":{"field":"ml","type":"quantitative","axis":null}}},
    {"mark":{"type":"point","filled":true,"color":"#1c1cd6","size":9},"encoding":{"xOffset":{"datum":"MC"},"y":{"field":"mh","type":"quantitative","axis":null}}},
    {"mark":{"type":"tick","color":"#111111","size":7,"thickness":1.5},"encoding":{"xOffset":{"datum":"WC"},"y":{"field":"wc","type":"quantitative","axis":null}}}
   ]}
 ]},
{"width":142,"height":133,"title":"D",
 "resolve":{"scale":{"y":"independent"},"axis":{"x":"independent"}},
 "layer":[
  {"data":{"name":"ab"},"transform":[{"filter":"datum.s=='D'"}],
   "encoding":{"x":{"field":"mo","type":"nominal","scale":{"domain":["JAN","FEB","MAR","APR","MAY","JUN","JUL","AUG","SEP","OCT","NOV","DEC"]},"axis":{"orient":"top","offset":29,"labels":false,"ticks":false,"domain":false,"title":"Highland 2","titleFontSize":15,"titleAnchor":"start","titleAlign":"left","titleX":20,"titlePadding":1}}},
   "layer":[
    {"mark":{"type":"bar","fill":"#c2c2c2","stroke":"#5e5e5e","strokeWidth":0.8},"encoding":{"y":{"field":"ab","type":"quantitative","scale":{"domain":[0,1],"range":[0,-28],"nice":false},"axis":null}}},
    {"mark":{"type":"line","color":"#333333","strokeWidth":0.7,"strokeDash":[2,2]},"encoding":{"y":{"field":"sd","type":"quantitative","axis":null}}},
    {"mark":{"type":"point","shape":"triangle-up","filled":true,"color":"black","size":8},"encoding":{"y":{"field":"sd","type":"quantitative","axis":null}}}
   ]},
  {"data":{"name":"d"},"transform":[{"filter":"datum.s=='D'&&datum.k=='S'"}],
   "encoding":{"x":{"field":"mo","type":"nominal","scale":{"domain":["JAN","FEB","MAR","APR","MAY","JUN","JUL","AUG","SEP","OCT","NOV","DEC"]},"title":null}},
   "layer":[
    {"mark":{"type":"rule","color":"#f2a7a7","strokeWidth":1},"encoding":{"xOffset":{"datum":"WS","scale":{"domain":["WS","WC","MC"]}},"y":{"field":"wl","type":"quantitative","scale":{"domain":[-0.028,0.722],"nice":false,"zero":false},"axis":{"orient":"right","values":[0,0.1,0.2,0.3,0.4,0.5,0.6,0.7],"tickCount":8,"labelOverlap":false,"format":".1f","title":null}},"y2":{"field":"wh"}}},
    {"mark":{"type":"rule","color":"#a8b0f0","strokeWidth":1},"encoding":{"xOffset":{"datum":"MC"},"y":{"field":"ml","type":"quantitative","axis":{"orient":"right","values":[0,0.1,0.2,0.3,0.4,0.5,0.6,0.7],"tickCount":8,"labelOverlap":false,"format":".1f","title":null}},"y2":{"field":"mh"}}},
    {"mark":{"type":"tick","color":"#f2a7a7","size":4,"thickness":1},"encoding":{"xOffset":{"datum":"WS"},"y":{"field":"wm","type":"quantitative","axis":{"orient":"right","values":[0,0.1,0.2,0.3,0.4,0.5,0.6,0.7],"tickCount":8,"labelOverlap":false,"format":".1f","title":null}}}},
    {"mark":{"type":"tick","color":"#a8b0f0","size":4,"thickness":1},"encoding":{"xOffset":{"datum":"MC"},"y":{"field":"mm","type":"quantitative","axis":{"orient":"right","values":[0,0.1,0.2,0.3,0.4,0.5,0.6,0.7],"tickCount":8,"labelOverlap":false,"format":".1f","title":null}}}},
    {"mark":{"type":"point","filled":true,"color":"#e3191c","size":9},"encoding":{"xOffset":{"datum":"WS"},"y":{"field":"wl","type":"quantitative","axis":{"orient":"right","values":[0,0.1,0.2,0.3,0.4,0.5,0.6,0.7],"tickCount":8,"labelOverlap":false,"format":".1f","title":null}}}},
    {"mark":{"type":"point","filled":true,"color":"#e3191c","size":9},"encoding":{"xOffset":{"datum":"WS"},"y":{"field":"wh","type":"quantitative","axis":{"orient":"right","values":[0,0.1,0.2,0.3,0.4,0.5,0.6,0.7],"tickCount":8,"labelOverlap":false,"format":".1f","title":null}}}},
    {"mark":{"type":"point","filled":true,"color":"#1c1cd6","size":9},"encoding":{"xOffset":{"datum":"MC"},"y":{"field":"ml","type":"quantitative","axis":{"orient":"right","values":[0,0.1,0.2,0.3,0.4,0.5,0.6,0.7],"tickCount":8,"labelOverlap":false,"format":".1f","title":null}}}},
    {"mark":{"type":"point","filled":true,"color":"#1c1cd6","size":9},"encoding":{"xOffset":{"datum":"MC"},"y":{"field":"mh","type":"quantitative","axis":{"orient":"right","values":[0,0.1,0.2,0.3,0.4,0.5,0.6,0.7],"tickCount":8,"labelOverlap":false,"format":".1f","title":null}}}},
    {"mark":{"type":"tick","color":"#111111","size":7,"thickness":1.5},"encoding":{"xOffset":{"datum":"WC"},"y":{"field":"wc","type":"quantitative","axis":{"orient":"right","values":[0,0.1,0.2,0.3,0.4,0.5,0.6,0.7],"tickCount":8,"labelOverlap":false,"format":".1f","title":null}}}}
   ]}
 ]},
{"width":142,"height":133,"data":{"name":"d"},"transform":[{"filter":"datum.s=='A'&&datum.k=='D'"}],
 "encoding":{"x":{"field":"mo","type":"nominal","scale":{"domain":["JAN","FEB","MAR","APR","MAY","JUN","JUL","AUG","SEP","OCT","NOV","DEC"]},"title":null}},
 "layer":[
  {"mark":{"type":"rule","color":"#f2a7a7","strokeWidth":1},"encoding":{"xOffset":{"datum":"WS","scale":{"domain":["WS","WC","MC"]}},"y":{"field":"wl","type":"quantitative","scale":{"domain":[-0.00024,0.00628],"nice":false,"zero":false},"axis":{"values":[0,0.002,0.004,0.006],"labelOverlap":false,"format":".3f","title":"Developmental rate","titleX":-49,"titleBaseline":"alphabetic"}},"y2":{"field":"wh"}}},
  {"mark":{"type":"rule","color":"#a8b0f0","strokeWidth":1},"encoding":{"xOffset":{"datum":"MC"},"y":{"field":"ml","type":"quantitative"},"y2":{"field":"mh"}}},
  {"mark":{"type":"tick","color":"#f2a7a7","size":4,"thickness":1},"encoding":{"xOffset":{"datum":"WS"},"y":{"field":"wm","type":"quantitative"}}},
  {"mark":{"type":"tick","color":"#a8b0f0","size":4,"thickness":1},"encoding":{"xOffset":{"datum":"MC"},"y":{"field":"mm","type":"quantitative"}}},
  {"mark":{"type":"point","filled":true,"color":"#e3191c","size":9},"encoding":{"xOffset":{"datum":"WS"},"y":{"field":"wl","type":"quantitative"}}},
  {"mark":{"type":"point","filled":true,"color":"#e3191c","size":9},"encoding":{"xOffset":{"datum":"WS"},"y":{"field":"wh","type":"quantitative"}}},
  {"mark":{"type":"point","filled":true,"color":"#1c1cd6","size":9},"encoding":{"xOffset":{"datum":"MC"},"y":{"field":"ml","type":"quantitative"}}},
  {"mark":{"type":"point","filled":true,"color":"#1c1cd6","size":9},"encoding":{"xOffset":{"datum":"MC"},"y":{"field":"mh","type":"quantitative"}}},
  {"mark":{"type":"tick","color":"#111111","size":7,"thickness":1.5},"encoding":{"xOffset":{"datum":"WC"},"y":{"field":"wc","type":"quantitative"}}}
 ]},
{"width":142,"height":133,"data":{"name":"d"},"transform":[{"filter":"datum.s=='B'&&datum.k=='D'"}],
 "encoding":{"x":{"field":"mo","type":"nominal","scale":{"domain":["JAN","FEB","MAR","APR","MAY","JUN","JUL","AUG","SEP","OCT","NOV","DEC"]},"title":null}},
 "layer":[
  {"mark":{"type":"rule","color":"#f2a7a7","strokeWidth":1},"encoding":{"xOffset":{"datum":"WS","scale":{"domain":["WS","WC","MC"]}},"y":{"field":"wl","type":"quantitative","scale":{"domain":[-0.00024,0.00628],"nice":false,"zero":false},"axis":null},"y2":{"field":"wh"}}},
  {"mark":{"type":"rule","color":"#a8b0f0","strokeWidth":1},"encoding":{"xOffset":{"datum":"MC"},"y":{"field":"ml","type":"quantitative","axis":null},"y2":{"field":"mh"}}},
  {"mark":{"type":"tick","color":"#f2a7a7","size":4,"thickness":1},"encoding":{"xOffset":{"datum":"WS"},"y":{"field":"wm","type":"quantitative","axis":null}}},
  {"mark":{"type":"tick","color":"#a8b0f0","size":4,"thickness":1},"encoding":{"xOffset":{"datum":"MC"},"y":{"field":"mm","type":"quantitative","axis":null}}},
  {"mark":{"type":"point","filled":true,"color":"#e3191c","size":9},"encoding":{"xOffset":{"datum":"WS"},"y":{"field":"wl","type":"quantitative","axis":null}}},
  {"mark":{"type":"point","filled":true,"color":"#e3191c","size":9},"encoding":{"xOffset":{"datum":"WS"},"y":{"field":"wh","type":"quantitative","axis":null}}},
  {"mark":{"type":"point","filled":true,"color":"#1c1cd6","size":9},"encoding":{"xOffset":{"datum":"MC"},"y":{"field":"ml","type":"quantitative","axis":null}}},
  {"mark":{"type":"point","filled":true,"color":"#1c1cd6","size":9},"encoding":{"xOffset":{"datum":"MC"},"y":{"field":"mh","type":"quantitative","axis":null}}},
  {"mark":{"type":"tick","color":"#111111","size":7,"thickness":1.5},"encoding":{"xOffset":{"datum":"WC"},"y":{"field":"wc","type":"quantitative","axis":null}}}
 ]},
{"width":142,"height":133,"data":{"name":"d"},"transform":[{"filter":"datum.s=='C'&&datum.k=='D'"}],
 "encoding":{"x":{"field":"mo","type":"nominal","scale":{"domain":["JAN","FEB","MAR","APR","MAY","JUN","JUL","AUG","SEP","OCT","NOV","DEC"]},"title":null}},
 "layer":[
  {"mark":{"type":"rule","color":"#f2a7a7","strokeWidth":1},"encoding":{"xOffset":{"datum":"WS","scale":{"domain":["WS","WC","MC"]}},"y":{"field":"wl","type":"quantitative","scale":{"domain":[-0.00024,0.00628],"nice":false,"zero":false},"axis":null},"y2":{"field":"wh"}}},
  {"mark":{"type":"rule","color":"#a8b0f0","strokeWidth":1},"encoding":{"xOffset":{"datum":"MC"},"y":{"field":"ml","type":"quantitative","axis":null},"y2":{"field":"mh"}}},
  {"mark":{"type":"tick","color":"#f2a7a7","size":4,"thickness":1},"encoding":{"xOffset":{"datum":"WS"},"y":{"field":"wm","type":"quantitative","axis":null}}},
  {"mark":{"type":"tick","color":"#a8b0f0","size":4,"thickness":1},"encoding":{"xOffset":{"datum":"MC"},"y":{"field":"mm","type":"quantitative","axis":null}}},
  {"mark":{"type":"point","filled":true,"color":"#e3191c","size":9},"encoding":{"xOffset":{"datum":"WS"},"y":{"field":"wl","type":"quantitative","axis":null}}},
  {"mark":{"type":"point","filled":true,"color":"#e3191c","size":9},"encoding":{"xOffset":{"datum":"WS"},"y":{"field":"wh","type":"quantitative","axis":null}}},
  {"mark":{"type":"point","filled":true,"color":"#1c1cd6","size":9},"encoding":{"xOffset":{"datum":"MC"},"y":{"field":"ml","type":"quantitative","axis":null}}},
  {"mark":{"type":"point","filled":true,"color":"#1c1cd6","size":9},"encoding":{"xOffset":{"datum":"MC"},"y":{"field":"mh","type":"quantitative","axis":null}}},
  {"mark":{"type":"tick","color":"#111111","size":7,"thickness":1.5},"encoding":{"xOffset":{"datum":"WC"},"y":{"field":"wc","type":"quantitative","axis":null}}}
 ]},
{"width":142,"height":133,"data":{"name":"d"},"transform":[{"filter":"datum.s=='D'&&datum.k=='D'"}],
 "encoding":{"x":{"field":"mo","type":"nominal","scale":{"domain":["JAN","FEB","MAR","APR","MAY","JUN","JUL","AUG","SEP","OCT","NOV","DEC"]},"title":null}},
 "layer":[
  {"mark":{"type":"rule","color":"#f2a7a7","strokeWidth":1},"encoding":{"xOffset":{"datum":"WS","scale":{"domain":["WS","WC","MC"]}},"y":{"field":"wl","type":"quantitative","scale":{"domain":[-0.00024,0.00628],"nice":false,"zero":false},"axis":{"orient":"right","values":[0,0.002,0.004,0.006],"labelOverlap":false,"format":".3f","title":null}},"y2":{"field":"wh"}}},
  {"mark":{"type":"rule","color":"#a8b0f0","strokeWidth":1},"encoding":{"xOffset":{"datum":"MC"},"y":{"field":"ml","type":"quantitative"},"y2":{"field":"mh"}}},
  {"mark":{"type":"tick","color":"#f2a7a7","size":4,"thickness":1},"encoding":{"xOffset":{"datum":"WS"},"y":{"field":"wm","type":"quantitative"}}},
  {"mark":{"type":"tick","color":"#a8b0f0","size":4,"thickness":1},"encoding":{"xOffset":{"datum":"MC"},"y":{"field":"mm","type":"quantitative"}}},
  {"mark":{"type":"point","filled":true,"color":"#e3191c","size":9},"encoding":{"xOffset":{"datum":"WS"},"y":{"field":"wl","type":"quantitative"}}},
  {"mark":{"type":"point","filled":true,"color":"#e3191c","size":9},"encoding":{"xOffset":{"datum":"WS"},"y":{"field":"wh","type":"quantitative"}}},
  {"mark":{"type":"point","filled":true,"color":"#1c1cd6","size":9},"encoding":{"xOffset":{"datum":"MC"},"y":{"field":"ml","type":"quantitative"}}},
  {"mark":{"type":"point","filled":true,"color":"#1c1cd6","size":9},"encoding":{"xOffset":{"datum":"MC"},"y":{"field":"mh","type":"quantitative"}}},
  {"mark":{"type":"tick","color":"#111111","size":7,"thickness":1.5},"encoding":{"xOffset":{"datum":"WC"},"y":{"field":"wc","type":"quantitative"}}}
 ]},
{"width":142,"height":133,"data":{"name":"d"},"transform":[{"filter":"datum.s=='A'&&datum.k=='F'"}],
 "encoding":{"x":{"field":"mo","type":"nominal","scale":{"domain":["JAN","FEB","MAR","APR","MAY","JUN","JUL","AUG","SEP","OCT","NOV","DEC"]},"title":null}},
 "layer":[
  {"mark":{"type":"rule","color":"#f2a7a7","strokeWidth":1},"encoding":{"xOffset":{"datum":"WS","scale":{"domain":["WS","WC","MC"]}},"y":{"field":"wl","type":"quantitative","scale":{"domain":[45.2,206.9],"nice":false,"zero":false},"axis":{"values":[50,100,150,200],"labelOverlap":false,"format":"d","title":"Fecundity","titleX":-49,"titleBaseline":"alphabetic"}},"y2":{"field":"wh"}}},
  {"mark":{"type":"rule","color":"#a8b0f0","strokeWidth":1},"encoding":{"xOffset":{"datum":"MC"},"y":{"field":"ml","type":"quantitative"},"y2":{"field":"mh"}}},
  {"mark":{"type":"tick","color":"#f2a7a7","size":4,"thickness":1},"encoding":{"xOffset":{"datum":"WS"},"y":{"field":"wm","type":"quantitative"}}},
  {"mark":{"type":"tick","color":"#a8b0f0","size":4,"thickness":1},"encoding":{"xOffset":{"datum":"MC"},"y":{"field":"mm","type":"quantitative"}}},
  {"mark":{"type":"point","filled":true,"color":"#e3191c","size":9},"encoding":{"xOffset":{"datum":"WS"},"y":{"field":"wl","type":"quantitative"}}},
  {"mark":{"type":"point","filled":true,"color":"#e3191c","size":9},"encoding":{"xOffset":{"datum":"WS"},"y":{"field":"wh","type":"quantitative"}}},
  {"mark":{"type":"point","filled":true,"color":"#1c1cd6","size":9},"encoding":{"xOffset":{"datum":"MC"},"y":{"field":"ml","type":"quantitative"}}},
  {"mark":{"type":"point","filled":true,"color":"#1c1cd6","size":9},"encoding":{"xOffset":{"datum":"MC"},"y":{"field":"mh","type":"quantitative"}}},
  {"mark":{"type":"tick","color":"#111111","size":7,"thickness":1.5},"encoding":{"xOffset":{"datum":"WC"},"y":{"field":"wc","type":"quantitative"}}}
 ]},
{"width":142,"height":133,"data":{"name":"d"},"transform":[{"filter":"datum.s=='B'&&datum.k=='F'"}],
 "encoding":{"x":{"field":"mo","type":"nominal","scale":{"domain":["JAN","FEB","MAR","APR","MAY","JUN","JUL","AUG","SEP","OCT","NOV","DEC"]},"title":null}},
 "layer":[
  {"mark":{"type":"rule","color":"#f2a7a7","strokeWidth":1},"encoding":{"xOffset":{"datum":"WS","scale":{"domain":["WS","WC","MC"]}},"y":{"field":"wl","type":"quantitative","scale":{"domain":[45.2,206.9],"nice":false,"zero":false},"axis":null},"y2":{"field":"wh"}}},
  {"mark":{"type":"rule","color":"#a8b0f0","strokeWidth":1},"encoding":{"xOffset":{"datum":"MC"},"y":{"field":"ml","type":"quantitative","axis":null},"y2":{"field":"mh"}}},
  {"mark":{"type":"tick","color":"#f2a7a7","size":4,"thickness":1},"encoding":{"xOffset":{"datum":"WS"},"y":{"field":"wm","type":"quantitative","axis":null}}},
  {"mark":{"type":"tick","color":"#a8b0f0","size":4,"thickness":1},"encoding":{"xOffset":{"datum":"MC"},"y":{"field":"mm","type":"quantitative","axis":null}}},
  {"mark":{"type":"point","filled":true,"color":"#e3191c","size":9},"encoding":{"xOffset":{"datum":"WS"},"y":{"field":"wl","type":"quantitative","axis":null}}},
  {"mark":{"type":"point","filled":true,"color":"#e3191c","size":9},"encoding":{"xOffset":{"datum":"WS"},"y":{"field":"wh","type":"quantitative","axis":null}}},
  {"mark":{"type":"point","filled":true,"color":"#1c1cd6","size":9},"encoding":{"xOffset":{"datum":"MC"},"y":{"field":"ml","type":"quantitative","axis":null}}},
  {"mark":{"type":"point","filled":true,"color":"#1c1cd6","size":9},"encoding":{"xOffset":{"datum":"MC"},"y":{"field":"mh","type":"quantitative","axis":null}}},
  {"mark":{"type":"tick","color":"#111111","size":7,"thickness":1.5},"encoding":{"xOffset":{"datum":"WC"},"y":{"field":"wc","type":"quantitative","axis":null}}}
 ]},
{"width":142,"height":133,"data":{"name":"d"},"transform":[{"filter":"datum.s=='C'&&datum.k=='F'"}],
 "encoding":{"x":{"field":"mo","type":"nominal","scale":{"domain":["JAN","FEB","MAR","APR","MAY","JUN","JUL","AUG","SEP","OCT","NOV","DEC"]},"title":null}},
 "layer":[
  {"mark":{"type":"rule","color":"#f2a7a7","strokeWidth":1},"encoding":{"xOffset":{"datum":"WS","scale":{"domain":["WS","WC","MC"]}},"y":{"field":"wl","type":"quantitative","scale":{"domain":[45.2,206.9],"nice":false,"zero":false},"axis":null},"y2":{"field":"wh"}}},
  {"mark":{"type":"rule","color":"#a8b0f0","strokeWidth":1},"encoding":{"xOffset":{"datum":"MC"},"y":{"field":"ml","type":"quantitative","axis":null},"y2":{"field":"mh"}}},
  {"mark":{"type":"tick","color":"#f2a7a7","size":4,"thickness":1},"encoding":{"xOffset":{"datum":"WS"},"y":{"field":"wm","type":"quantitative","axis":null}}},
  {"mark":{"type":"tick","color":"#a8b0f0","size":4,"thickness":1},"encoding":{"xOffset":{"datum":"MC"},"y":{"field":"mm","type":"quantitative","axis":null}}},
  {"mark":{"type":"point","filled":true,"color":"#e3191c","size":9},"encoding":{"xOffset":{"datum":"WS"},"y":{"field":"wl","type":"quantitative","axis":null}}},
  {"mark":{"type":"point","filled":true,"color":"#e3191c","size":9},"encoding":{"xOffset":{"datum":"WS"},"y":{"field":"wh","type":"quantitative","axis":null}}},
  {"mark":{"type":"point","filled":true,"color":"#1c1cd6","size":9},"encoding":{"xOffset":{"datum":"MC"},"y":{"field":"ml","type":"quantitative","axis":null}}},
  {"mark":{"type":"point","filled":true,"color":"#1c1cd6","size":9},"encoding":{"xOffset":{"datum":"MC"},"y":{"field":"mh","type":"quantitative","axis":null}}},
  {"mark":{"type":"tick","color":"#111111","size":7,"thickness":1.5},"encoding":{"xOffset":{"datum":"WC"},"y":{"field":"wc","type":"quantitative","axis":null}}}
 ]},
{"width":142,"height":133,
 "layer":[
  {"data":{"name":"d"},"transform":[{"filter":"datum.s=='D'&&datum.k=='F'"}],
   "encoding":{"x":{"field":"mo","type":"nominal","scale":{"domain":["JAN","FEB","MAR","APR","MAY","JUN","JUL","AUG","SEP","OCT","NOV","DEC"]},"title":null}},
   "layer":[
    {"mark":{"type":"rule","color":"#f2a7a7","strokeWidth":1},"encoding":{"xOffset":{"datum":"WS","scale":{"domain":["WS","WC","MC"]}},"y":{"field":"wl","type":"quantitative","scale":{"domain":[45.2,206.9],"nice":false,"zero":false},"axis":{"orient":"right","values":[50,100,150,200],"labelOverlap":false,"format":"d","title":null}},"y2":{"field":"wh"}}},
    {"mark":{"type":"rule","color":"#a8b0f0","strokeWidth":1},"encoding":{"xOffset":{"datum":"MC"},"y":{"field":"ml","type":"quantitative"},"y2":{"field":"mh"}}},
    {"mark":{"type":"tick","color":"#f2a7a7","size":4,"thickness":1},"encoding":{"xOffset":{"datum":"WS"},"y":{"field":"wm","type":"quantitative"}}},
    {"mark":{"type":"tick","color":"#a8b0f0","size":4,"thickness":1},"encoding":{"xOffset":{"datum":"MC"},"y":{"field":"mm","type":"quantitative"}}},
    {"mark":{"type":"point","filled":true,"color":"#e3191c","size":9},"encoding":{"xOffset":{"datum":"WS"},"y":{"field":"wl","type":"quantitative"}}},
    {"mark":{"type":"point","filled":true,"color":"#e3191c","size":9},"encoding":{"xOffset":{"datum":"WS"},"y":{"field":"wh","type":"quantitative"}}},
    {"mark":{"type":"point","filled":true,"color":"#1c1cd6","size":9},"encoding":{"xOffset":{"datum":"MC"},"y":{"field":"ml","type":"quantitative"}}},
    {"mark":{"type":"point","filled":true,"color":"#1c1cd6","size":9},"encoding":{"xOffset":{"datum":"MC"},"y":{"field":"mh","type":"quantitative"}}},
    {"mark":{"type":"tick","color":"#111111","size":7,"thickness":1.5},"encoding":{"xOffset":{"datum":"WC"},"y":{"field":"wc","type":"quantitative"}}}
   ]},
  {"data":{"values":[{"leg":"WorldClim"},{"leg":"Weather stations"},{"leg":"Microclimate"},{"leg":"Moth sd"},{"leg":"Moth abundance"}]},
   "mark":{"type":"point","filled":true},
   "encoding":{
    "y":{"field":"nv","type":"quantitative"},
    "fill":{"field":"leg","type":"nominal","title":null,"scale":{"domain":["WorldClim","Weather stations","Microclimate","Moth sd","Moth abundance"],"range":["#000000","#ff1414","#1414ff","#000000","#a6a6a6"]}},
    "stroke":{"field":"leg","type":"nominal","title":null,"scale":{"domain":["WorldClim","Weather stations","Microclimate","Moth sd","Moth abundance"],"range":["#000000","#ff1414","#1414ff","#000000","#a6a6a6"]}},
    "shape":{"field":"leg","type":"nominal","title":null,"scale":{"domain":["WorldClim","Weather stations","Microclimate","Moth sd","Moth abundance"],"range":["stroke","circle","circle","triangle-up","square"]}}
   }}
 ]}
],
"config":{
 "font":"Liberation Sans",
 "view":{"stroke":"#7a7a7a","strokeWidth":1.2},
 "point":{"opacity":1},
 "tick":{"opacity":1},
 "axis":{"grid":false,"domain":false,"labelOverlap":false,"tickColor":"#666666","labelColor":"#1a1a1a","titleColor":"#1a1a1a","titleFontWeight":"normal","labelFontSize":13.5,"titleFontSize":16,"labelFont":"Liberation Sans","titleFont":"Liberation Sans"},
 "axisX":{"labelAngle":-90,"labelFontSize":9.5,"labelFont":"Liberation Sans","tickSize":2,"labelPadding":1},
 "axisY":{"tickSize":5,"labelPadding":2},
 "scale":{"bandPaddingInner":0.15,"bandPaddingOuter":0.075,"offsetBandPaddingInner":0,"offsetBandPaddingOuter":0.3},
 "legend":{"orient":"bottom","direction":"horizontal","labelFontSize":13.8,"labelColor":"#1a1a1a","symbolSize":140,"symbolStrokeWidth":3,"columnPadding":16,"offset":-2,"labelOffset":3},
 "title":{"anchor":"start","frame":"group","fontSize":12.5,"fontWeight":"bold","dx":4,"dy":19,"offset":4,"color":"#1a1a1a"}
}
}
